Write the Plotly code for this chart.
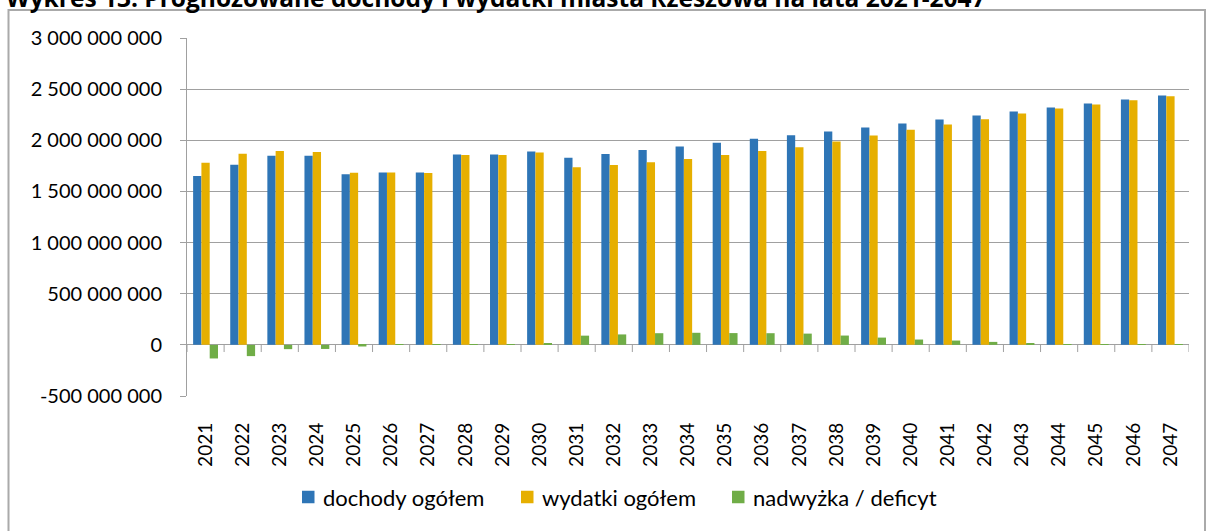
import plotly.graph_objects as go

# Prognozowane dochody i wydatki miasta (zł)
years = [str(y) for y in range(2021, 2048)]

dochody = [
    1651e6, 1761e6, 1849e6, 1849e6, 1667e6, 1686e6, 1686e6, 1862e6, 1862e6,
    1891e6, 1829e6, 1865e6, 1904e6, 1940e6, 1975e6, 2014e6, 2050e6, 2086e6,
    2125e6, 2164e6, 2203e6, 2242e6, 2281e6, 2320e6, 2359e6, 2398e6, 2437e6,
]
wydatki = [
    1781e6, 1869e6, 1895e6, 1885e6, 1683e6, 1684e6, 1680e6, 1855e6, 1856e6,
    1881e6, 1737e6, 1758e6, 1786e6, 1818e6, 1856e6, 1896e6, 1933e6, 1988e6,
    2047e6, 2102e6, 2154e6, 2206e6, 2261e6, 2310e6, 2349e6, 2391e6, 2430e6,
]
saldo = [
    -133e6, -110e6, -42e6, -40e6, -16e6, 1e6, 3e6, 5e6, 3e6,
    10e6, 90e6, 102e6, 114e6, 118e6, 115e6, 114e6, 110e6, 91e6,
    71e6, 52e6, 42e6, 29e6, 13e6, 4e6, 3e6, 2e6, 1e6,
]

series_names = ["dochody ogółem", "wydatki ogółem", "nadwyżka / deficyt"]
series_colors = ["#2E75B6", "#E6AF00", "#70AD47"]

y_tickvals = [-500e6, 0, 500e6, 1000e6, 1500e6, 2000e6, 2500e6, 3000e6]
y_ticktext = ["-500 000 000", "0", "500 000 000", "1 000 000 000",
              "1 500 000 000", "2 000 000 000", "2 500 000 000", "3 000 000 000"]

title_text = "Wykres 13. Prognozowane dochody i wydatki miasta Rzeszowa na lata 2021-2047"

W, H = 1206, 531
L, R, T, B = 187, 17, 38, 135
pw, ph = W - L - R, H - T - B


def px_x(x):
    return (x - L) / pw


def px_y(y):
    return (H - B - y) / ph


FONT = "Lato"
GRID = "#A0A0A0"

fig = go.Figure()
for name, vals, col in zip(series_names, [dochody, wydatki, saldo], series_colors):
    fig.add_trace(go.Bar(
        x=years, y=vals, name=name, showlegend=False,
        marker=dict(color=col, line=dict(width=0)),
    ))

# tick marks on the category axis running along the zero line
shapes = []
for i in range(len(years) + 1):
    shapes.append(dict(
        type="line", xref="x", yref="y",
        x0=i - 0.5, x1=i - 0.5, y0=0, y1=-70e6,
        line=dict(color=GRID, width=1),
    ))

# outer chart frame
shapes.append(dict(
    type="rect", xref="paper", yref="paper",
    x0=px_x(8.5), x1=px_x(1205), y0=px_y(540), y1=px_y(10),
    line=dict(color="#AAAAAA", width=2), fillcolor="rgba(0,0,0,0)",
    layer="below",
))

annotations = [dict(
    text="<b>" + title_text + "</b>", xref="paper", yref="paper",
    x=px_x(4), y=px_y(-3), xanchor="left", yanchor="middle",
    showarrow=False, font=dict(family="Open Sans", size=24.5, color="#000000"),
)]

# legend row below the chart: colour key + series name
legend_x = [302, 521, 732]
legend_yc = 497
key = 12.5
for lx, name, col in zip(legend_x, series_names, series_colors):
    shapes.append(dict(
        type="rect", xref="paper", yref="paper",
        x0=px_x(lx), x1=px_x(lx + key),
        y0=px_y(legend_yc + key / 2), y1=px_y(legend_yc - key / 2),
        fillcolor=col, line=dict(width=0),
    ))
    annotations.append(dict(
        text=name, xref="paper", yref="paper",
        x=px_x(lx + key + 6), y=px_y(legend_yc), xanchor="left", yanchor="middle",
        showarrow=False, font=dict(family=FONT, size=22, color="#000000"),
    ))

fig.update_layout(
    width=W, height=H,
    margin=dict(l=L, r=R, t=T, b=B, pad=0),
    paper_bgcolor="white", plot_bgcolor="white",
    barmode="group", bargap=0.33, bargroupgap=0,
    font=dict(family=FONT, color="#000000"),
    showlegend=False,
    shapes=shapes,
    annotations=annotations,
)

fig.update_xaxes(
    type="category", showgrid=False, showline=False, zeroline=False,
    ticks="", tickangle=-90, ticklabelstandoff=22,
    tickfont=dict(family=FONT, size=19, color="#000000"),
    range=[-0.5, len(years) - 0.5],
)
fig.update_yaxes(
    range=[-500e6, 3000e6], tickvals=y_tickvals, ticktext=y_ticktext,
    showgrid=True, gridcolor=GRID, gridwidth=1,
    zeroline=True, zerolinecolor=GRID, zerolinewidth=1,
    showline=True, linecolor=GRID, linewidth=1,
    ticks="outside", ticklen=6, tickcolor=GRID,
    ticklabelstandoff=14,
    tickfont=dict(family=FONT, size=20, color="#000000"),
)

fig.write_html("out.html")
